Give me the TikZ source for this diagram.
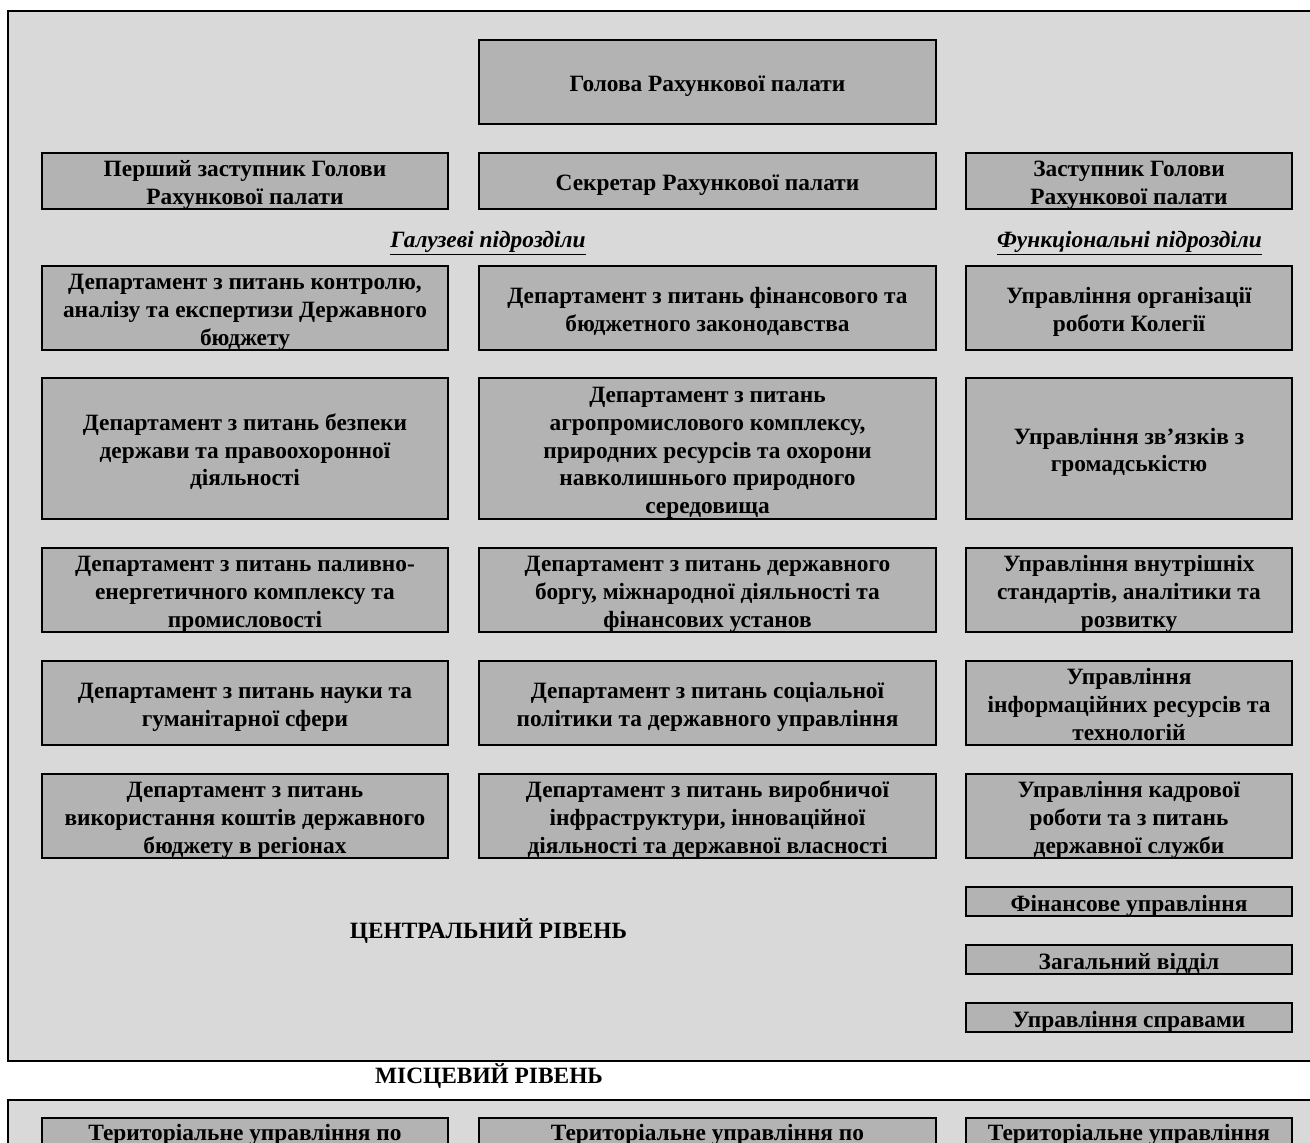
\documentclass[tikz,border=0pt]{standalone}
\usepackage{fontspec}
\setmainfont{Liberation Serif}
\usetikzlibrary{positioning}
\definecolor{framegray}{RGB}{217,217,217}
\definecolor{boxgray}{RGB}{179,179,179}
\newcommand{\lstrut}{\rule[-3.56pt]{0pt}{15.77pt}}
\newcommand{\nl}{\lstrut\\}
\tikzstyle{level} = [draw, line width=1.1pt, fill=framegray]
\tikzstyle{unit} = [draw, line width=1.3pt, fill=boxgray, align=center, inner sep=0pt, font=\fontsize{13.3}{15.8}\selectfont\bfseries, execute at end node=\lstrut, text depth=1.3pt]
\tikzstyle{colL} = [minimum width=8.12cm]
\tikzstyle{colM} = [minimum width=9.14cm]
\tikzstyle{colR} = [minimum width=6.52cm]
\tikzstyle{caption} = [inner sep=0pt, anchor=base, font=\fontsize{13.3}{15.8}\selectfont\bfseries]
\newcommand{\subhead}[1]{\underline{\textit{#1}}}

\begin{document}
\begin{tikzpicture}[x=0.02cm, y=-0.02cm]
\useasboundingbox (0,0) rectangle (1310,1142);
\clip (0,0) rectangle (1310,1142);
% central level frame
\draw[level] (8,11) rectangle (1340,1061);
% local level frame
\draw[level] (8,1100) rectangle (1340,1300);

\node[unit, colM, minimum height=1.68cm] (head) at (707.5,82) {Голова Рахункової палати};

\node[unit, colL, minimum height=1.12cm] (firstdep) at (245,181) {Перший заступник Голови\nl Рахункової палати};
\node[unit, colM, minimum height=1.12cm] (secr) at (707.5,181) {Секретар Рахункової палати};
\node[unit, colR, minimum height=1.12cm] (deputy) at (1129,181) {Заступник Голови\nl Рахункової палати};

\node[caption] (branch) at (488,247) {\subhead{Галузеві підрозділи}};
\node[caption] (func) at (1129.5,247) {\subhead{Функціональні підрозділи}};

\node[unit, colL, minimum height=1.68cm] (dep1) at (245,308) {Департамент з питань контролю,\nl аналізу та експертизи Державного\nl бюджету};
\node[unit, colM, minimum height=1.68cm] (dep2) at (707.5,308) {Департамент з питань фінансового та\nl бюджетного законодавства};
\node[unit, colR, minimum height=1.68cm] (off1) at (1129,308) {Управління організації\nl роботи Колегії};

\node[unit, colL, minimum height=2.82cm] (dep3) at (245,448.5) {Департамент з питань безпеки\nl держави та правоохоронної\nl діяльності};
\node[unit, colM, minimum height=2.82cm] (dep4) at (707.5,448.5) {Департамент з питань\nl агропромислового комплексу,\nl природних ресурсів та охорони\nl навколишнього природного\nl середовища};
\node[unit, colR, minimum height=2.82cm] (off2) at (1129,448.5) {Управління зв’язків з\nl громадськістю};

\node[unit, colL, minimum height=1.68cm] (dep5) at (245,590) {Департамент з питань паливно-\nl енергетичного комплексу та\nl промисловості};
\node[unit, colM, minimum height=1.68cm] (dep6) at (707.5,590) {Департамент з питань державного\nl боргу, міжнародної діяльності та\nl фінансових установ};
\node[unit, colR, minimum height=1.68cm] (off3) at (1129,590) {Управління внутрішніх\nl стандартів, аналітики та\nl розвитку};

\node[unit, colL, minimum height=1.68cm] (dep7) at (245,703) {Департамент з питань науки та\nl гуманітарної сфери};
\node[unit, colM, minimum height=1.68cm] (dep8) at (707.5,703) {Департамент з питань соціальної\nl політики та державного управління};
\node[unit, colR, minimum height=1.68cm] (off4) at (1129,703) {Управління\nl інформаційних ресурсів та\nl технологій};

\node[unit, colL, minimum height=1.68cm] (dep9) at (245,816) {Департамент з питань\nl використання коштів державного\nl бюджету в регіонах};
\node[unit, colM, minimum height=1.68cm] (dep10) at (707.5,816) {Департамент з питань виробничої\nl інфраструктури, інноваційної\nl діяльності та державної власності};
\node[unit, colR, minimum height=1.68cm] (off5) at (1129,816) {Управління кадрової\nl роботи та з питань\nl державної служби};

\node[unit, colR, minimum height=0.58cm] (fin) at (1129,901.5) {Фінансове управління};
\node[unit, colR, minimum height=0.58cm] (gen) at (1129,959.5) {Загальний відділ};
\node[unit, colR, minimum height=0.58cm] (aff) at (1129,1017.5) {Управління справами};

\node[caption] (central) at (488.5,938) {ЦЕНТРАЛЬНИЙ РІВЕНЬ};
\node[caption] (local) at (489,1083) {МІСЦЕВИЙ РІВЕНЬ};

% territorial offices (cut at the page edge)
\node[unit, colL, minimum height=1.66cm] (terr1) at (245,1159.5) {};
\node[unit, colM, minimum height=1.66cm] (terr2) at (707.5,1159.5) {};
\node[unit, colR, minimum height=1.66cm] (terr3) at (1129,1159.5) {};
\node[caption] (terr1t) at (245,1140) {Територіальне управління по};
\node[caption] (terr2t) at (707.5,1140) {Територіальне управління по};
\node[caption] (terr3t) at (1129,1140) {Територіальне управління};
\end{tikzpicture}
\end{document}
